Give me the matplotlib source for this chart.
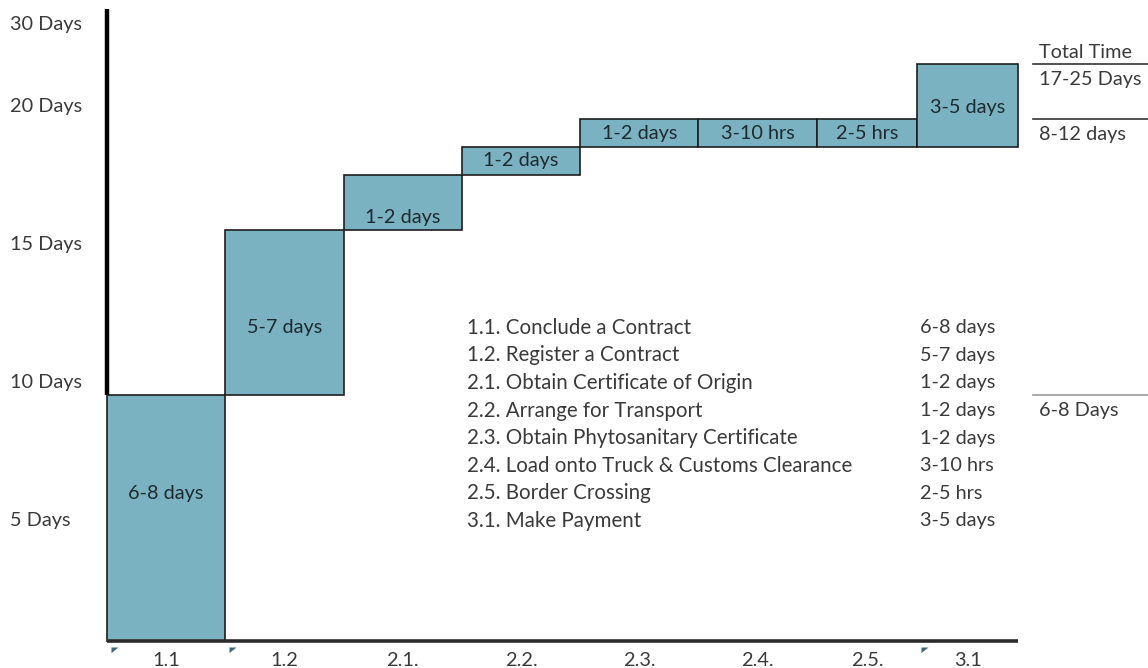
import matplotlib
matplotlib.use("Agg")
import matplotlib.pyplot as plt
from matplotlib.patches import Rectangle

plt.rcParams['font.family'] = ['Lato', 'DejaVu Sans']

# Process steps (x-axis) and their drawn durations in days
steps = ["1.1", "1.2", "2.1.", "2.2.", "2.3.", "2.4.", "2.5.", "3.1"]
step_widths = [1, 1, 1, 1, 1, 1, 0.85, 0.85]
bar_bottoms = [0, 8.9, 14.9, 16.9, 17.9, 17.9, 17.9, 17.9]
bar_heights = [8.9, 6, 2, 1, 1, 1, 1, 3]
bar_labels = ["6-8 days", "5-7 days", "1-2 days", "1-2 days",
              "1-2 days", "3-10 hrs", "2-5 hrs", "3-5 days"]
# vertical placement of each bar's caption, as a fraction of the bar height
label_frac = [0.6, 0.41, 0.22, 0.5, 0.48, 0.48, 0.48, 0.48]

# Y-axis captions and where they sit
y_labels = ["30 Days", "20 Days", "15 Days", "10 Days", "5 Days"]
y_label_pos = [22.35, 19.35, 14.35, 9.35, 4.35]

# Step descriptions
step_names = ["1.1. Conclude a Contract", "1.2. Register a Contract",
              "2.1. Obtain Certificate of Origin", "2.2. Arrange for Transport",
              "2.3. Obtain Phytosanitary Certificate",
              "2.4. Load onto Truck & Customs Clearance",
              "2.5. Border Crossing", "3.1. Make Payment"]
step_times = ["6-8 days", "5-7 days", "1-2 days", "1-2 days",
              "1-2 days", "3-10 hrs", "2-5 hrs", "3-5 days"]

# Total-time column: level of each divider and text under it
total_levels = [20.9, 18.9, 8.9]
total_texts = ["17-25 Days", "8-12 days", "6-8 Days"]
total_line_colors = ["#333333", "#333333", "#999999"]

BAR_COLOR = "#7ab2c2"
TEXT_COLOR = "#3a3a3a"
FS = 14.3
FS_LIST = 14.8

fig = plt.figure(figsize=(11.48, 6.68), dpi=100)
ax = fig.add_axes([0, 0, 1, 1])
ax.set_xlim(-0.9045, 8.80)
ax.set_ylim(-0.978, 23.225)
ax.axis("off")

# Bars
edges = [0]
for w in step_widths:
    edges.append(edges[-1] + w)
for i in range(len(steps)):
    x0 = edges[i]
    w = step_widths[i]
    ax.add_patch(Rectangle((x0, bar_bottoms[i]), w, bar_heights[i],
                           facecolor=BAR_COLOR, edgecolor="#1e1e1e",
                           linewidth=1.2, zorder=2))
    cy = bar_bottoms[i] + bar_heights[i] * label_frac[i]
    ax.text(x0 + w / 2, cy, bar_labels[i], ha="center", va="center",
            fontsize=FS, color="#1f2a2e", zorder=3)
    ax.text(x0 + w / 2, -0.7, steps[i], ha="center", va="center",
            fontsize=FS, color=TEXT_COLOR)

# Baseline and vertical axis
ax.plot([edges[0], edges[-1]], [0, 0], color="#2b2b2b", linewidth=2.6,
        solid_capstyle="butt", zorder=4)
ax.plot([edges[0], edges[0]], [bar_heights[0], 22.9], color="black",
        linewidth=3.2, solid_capstyle="butt", zorder=4)

# Small corner markers under the baseline at phase starts
corner = [(0, 0), (1, 0), (0, -0.8), (0, 0)]
for k in [0, 1, 7]:
    ax.plot(edges[k] + 0.035, -0.2, marker=corner, markersize=10,
            color="#3d6677", markeredgewidth=0, zorder=5)

# Y-axis captions
for lab, pos in zip(y_labels, y_label_pos):
    ax.text(-0.82, pos, lab, ha="left", va="center", fontsize=FS,
            color=TEXT_COLOR)

# Step list
row_top = 11.35
row_gap = 1.0
for j, (name, t) in enumerate(zip(step_names, step_times)):
    y = row_top - j * row_gap
    ax.text(3.043, y, name, ha="left", va="center", fontsize=FS_LIST,
            color=TEXT_COLOR)
    ax.text(6.872, y, t, ha="left", va="center", fontsize=FS,
            color=TEXT_COLOR)

# Total-time column
x_line0 = 7.83
x_txt = 7.875
ax.text(x_txt, total_levels[0] + 0.1, "Total Time", ha="left", va="bottom",
        fontsize=FS, color=TEXT_COLOR)
for lvl, txt, lc in zip(total_levels, total_texts, total_line_colors):
    ax.plot([x_line0, 8.80], [lvl, lvl], color=lc, linewidth=1.2)
    ax.text(x_txt, lvl - 0.55, txt, ha="left", va="center", fontsize=FS,
            color=TEXT_COLOR)

fig.savefig("out.png", dpi=100)
